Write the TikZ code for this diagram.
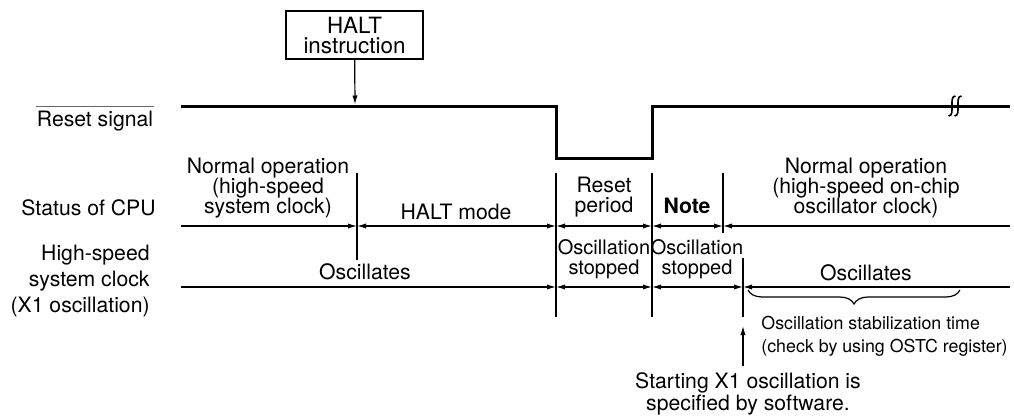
\documentclass[tikz,border=0pt]{standalone}
\usepackage{fontspec}
\setmainfont{TeX Gyre Heros}
\usetikzlibrary{arrows.meta, positioning, decorations.pathreplacing}

\begin{document}
\begin{tikzpicture}[x=0.5pt, y=-0.5pt, >={Latex[length=4.5pt,width=2.6pt]},
    every node/.style={font=\fontsize{10.6}{10.2}\selectfont, inner sep=0pt, align=center},
    sep/.style={line width=0.6pt},
    axis/.style={line width=0.6pt}]

    \useasboundingbox (0,0) rectangle (1014,419);

    % HALT instruction
    \node[draw, line width=0.6pt, minimum width=68.5pt, minimum height=24pt,
          font=\fontsize{11.2}{10}\selectfont] (halt) at (354.5,35) {HALT\\instruction};
    \coordinate (hit) at (355,104.5);
    \draw[->, line width=0.6pt] (halt) -- (hit);

    % Reset signal
    \node (rst) at (95,121) {Reset signal};
    \draw[line width=0.6pt, black!60] ([yshift=2pt]rst.north west) -- ([yshift=2pt]rst.north east);
    \draw[line width=1.5pt] (181,106) -- (556,106) -- (556,158) -- (652,158) -- (652,106) -- (1010,106);
    \foreach \x in {952,958}
        \draw[line width=0.8pt] (\x-3.5,116) to[out=0,in=-90] (\x,106) to[out=90,in=180] (\x+3.5,96);

    % Status of CPU
    \node[anchor=east] (cpu) at (156,208) {Status of CPU};
    \coordinate (c0) at (181,226);
    \coordinate (c1) at (357,226);
    \coordinate (c2) at (556,226);
    \coordinate (c3) at (652,226);
    \coordinate (c4) at (723,226);
    \coordinate (c5) at (1010,226);
    \draw[axis, ->] (c0) -- (c1);
    \draw[axis, <->] (c1) -- (c2);
    \draw[axis, <->] (c2) -- (c3);
    \draw[axis, <->] (c3) -- (c4);
    \draw[axis, <-] (c4) -- (c5);

    \node (norm1) at (268,188) {Normal operation\\(high-speed\\system clock)};
    \node (haltm) at (456,212) {HALT mode};
    \node (rperiod) at (604,197) {Reset\\period};
    \node[font=\fontsize{10.6}{10.2}\selectfont\bfseries] (note) at (687,206) {Note};
    \node (norm2) at (866,188) {Normal operation\\(high-speed on-chip\\oscillator clock)};

    % High-speed system clock
    \node[anchor=east, align=right, font=\fontsize{10.6}{13}\selectfont] (clk) at (150,281) {High-speed\\system clock\\(X1 oscillation)};
    \coordinate (k0) at (181,287);
    \coordinate (k2) at (556,287);
    \coordinate (k3) at (652,287);
    \coordinate (k4) at (743,287);
    \coordinate (k5) at (1010,287);
    \draw[axis, ->] (k0) -- (k2);
    \draw[axis, <->] (k2) -- (k3);
    \draw[axis, <->] (k3) -- (k4);
    \draw[axis, <-] (k4) -- (k5);

    \node (osc1) at (365,272) {Oscillates};
    \node[font=\fontsize{10}{10.2}\selectfont] (stop1) at (604,259) {Oscillation\\stopped};
    \node[font=\fontsize{10}{10.2}\selectfont] (stop2) at (697,259) {Oscillation\\stopped};
    \node (osc2) at (866,273) {Oscillates};

    % separators
    \draw[sep] (357,173) -- (357,260);
    \draw[sep] (556,173) -- (556,317);
    \draw[sep] (652,173) -- (652,317);
    \draw[sep] (723,173) -- (723,233);
    \draw[sep] (743,258) -- (743,317);

    % stabilization time
    \draw[line width=0.6pt, decorate, decoration={brace, mirror, amplitude=7pt}] (748,290) -- (960,290);
    \node[anchor=west, align=left, font=\fontsize{8.9}{11.5}\selectfont] (stab) at (761,336) {Oscillation stabilization time\\(check by using OSTC register)};

    % start of X1 oscillation
    \node[font=\fontsize{10.6}{11}\selectfont] (start) at (748,394) {Starting X1 oscillation is\\specified by software.};
    \coordinate (x1) at (743,326);
    \draw[->, line width=0.6pt] (start.north -| x1) ++(0,-6) -- (x1);

\end{tikzpicture}
\end{document}
